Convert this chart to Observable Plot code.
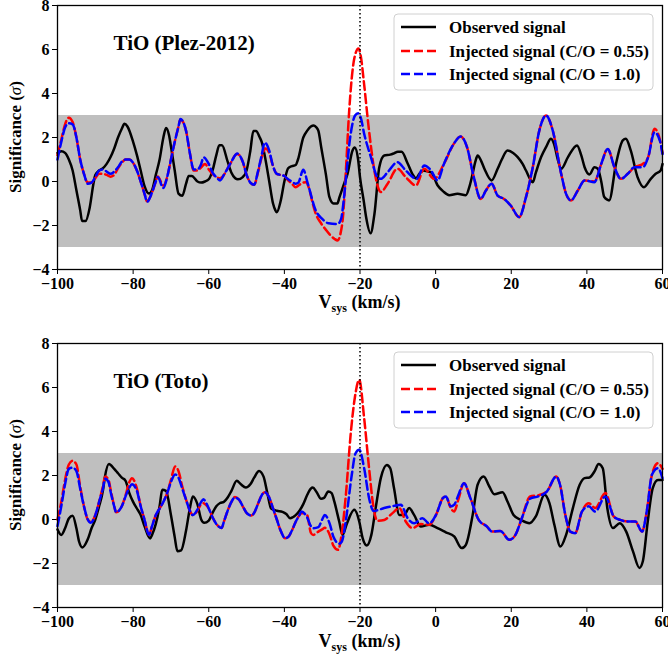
<!DOCTYPE html>
<html><head><meta charset="utf-8">
<script src="https://cdn.jsdelivr.net/npm/d3@7"></script>
<script src="https://cdn.jsdelivr.net/npm/@observablehq/plot@0.6"></script>
<style>
html,body{margin:0;padding:0;background:#fff;}
#chart{width:668px;}
#chart svg{display:block;}
</style></head><body><div id="chart"></div>
<script>
const xTicks = [-100, -80, -60, -40, -20, 0, 20, 40, 60];
const yTicks = [-4, -2, 0, 2, 4, 6, 8];
const noiseBand = [-3, 3];
const injectedVsys = [-20];
const seriesNames = ["Observed signal", "Injected signal (C/O = 0.55)", "Injected signal (C/O = 1.0)"];
const seriesColors = ["black", "red", "blue"];
const panelTitles = ["TiO (Plez-2012)", "TiO (Toto)"];

// Panel 1: TiO (Plez-2012) — [Vsys, significance]
const plezObs = [[-100,1.3],[-99,1.38],[-98,1.3],[-97,1.0],[-96,0.5],[-95,-0.4],[-94,-1.3],[-93.5,-1.8],[-92.6,-1.8],[-91.5,-1.2],[-90.5,-0.1],[-90,0.3],[-89,0.5],[-88,0.6],[-87,0.8],[-86,1.1],[-85,1.5],[-84,2.0],[-83,2.4],[-82.3,2.62],[-81.5,2.5],[-80,1.8],[-79,1.2],[-78,0.5],[-77,-0.2],[-75.8,-0.55],[-75,-0.4],[-74,0.3],[-73,1.0],[-72,2.0],[-71.3,2.43],[-70.5,2.1],[-70,1.6],[-69,0.5],[-68,-0.55],[-67,-0.65],[-66,-0.1],[-65.3,0.25],[-64.5,0.25],[-63,0.0],[-62,-0.05],[-61,0.0],[-60,0.1],[-59,0.5],[-58,1.2],[-57.2,1.65],[-56.5,1.65],[-55,0.9],[-54,0.4],[-53,0.15],[-52.3,0.1],[-51,0.2],[-50,0.5],[-49,1.4],[-48.2,2.3],[-47.5,2.3],[-46.5,2.0],[-46,1.8],[-45,1.0],[-44,0.0],[-43,-1.0],[-42.4,-1.3],[-42,-1.4],[-41,-0.9],[-40,0.0],[-39,0.6],[-38,0.7],[-37,0.75],[-36.4,1.0],[-35,2.0],[-34,2.3],[-33,2.5],[-32.2,2.55],[-31.5,2.45],[-31,2.3],[-30.2,1.5],[-29,0.3],[-28.1,-0.7],[-27,-1.0],[-26,-1.0],[-25.4,-0.7],[-24,0.0],[-23.3,0.35],[-22,1.4],[-21.4,1.55],[-20.5,1.0],[-20,0.2],[-19,-0.9],[-18.4,-1.6],[-17.2,-2.35],[-16.2,-1.5],[-14.9,0.65],[-13.6,1.18],[-12,1.22],[-11,1.28],[-10,1.35],[-9,1.35],[-7.4,0.82],[-6,0.3],[-5.2,0.14],[-4.3,0.35],[-3.4,0.5],[-2,0.45],[-1.2,0.42],[0.5,-0.17],[2,-0.45],[3.6,-0.62],[5.8,-0.56],[8,-0.62],[9,-0.2],[9.8,0.36],[10.5,0.9],[11.1,1.18],[12,0.95],[12.9,0.58],[14.8,0.05],[16.4,0.58],[17.5,1.0],[19,1.41],[20.5,1.3],[21.7,1.11],[23,0.8],[23.9,0.5],[25.7,-0.03],[26.5,0.4],[27.9,1.11],[29.3,1.6],[30.5,1.94],[31.5,1.6],[32.3,1.0],[33.2,0.58],[35,1.11],[37.4,1.64],[38.5,1.2],[39.4,0.65],[40.7,0.32],[42,0.65],[42.9,0.58],[43.8,0.0],[44.6,-0.71],[45.9,-0.86],[47.7,0.8],[49.5,1.87],[50.3,1.94],[51.6,1.41],[53.4,0.2],[55.1,-0.26],[56.9,0.12],[58.2,0.35],[59.5,0.5],[60,0.8]];
const plezRed = [[-100,1.2],[-99,1.9],[-98,2.6],[-97,2.9],[-96,2.7],[-95,2.0],[-94,1.0],[-93,0.35],[-92,-0.05],[-91,-0.05],[-90,0.15],[-89,0.35],[-88,0.35],[-87,0.3],[-86,0.22],[-85,0.3],[-84,0.6],[-83,0.85],[-82,1.0],[-81,1.0],[-80,0.85],[-79,0.5],[-78,0.0],[-77,-0.55],[-76.3,-0.9],[-75,-0.5],[-74,0.0],[-73.5,0.23],[-72,-0.18],[-71,0.2],[-70,1.0],[-69,1.8],[-68,2.5],[-67.5,2.82],[-66,2.3],[-65,1.3],[-64,0.5],[-63,0.5],[-62,0.65],[-61,0.8],[-60,0.55],[-59,0.35],[-58,0.2],[-57,0.15],[-56,0.3],[-55,0.6],[-54,0.9],[-53,1.2],[-52.5,1.25],[-51,0.9],[-50,0.3],[-49,-0.05],[-48,-0.15],[-47,0.4],[-46,1.1],[-45,1.5],[-44,1.3],[-43,0.7],[-42,0.35],[-41,0.3],[-40,0.25],[-39,0.05],[-38,-0.1],[-37,-0.26],[-36,-0.15],[-35,-0.05],[-34.3,-0.03],[-33.5,-0.3],[-32.5,-1.0],[-31.7,-1.47],[-30.5,-1.85],[-29,-2.2],[-27.8,-2.45],[-26.8,-2.6],[-25.9,-2.68],[-25.2,-2.4],[-24.5,-1.6],[-23.7,0.6],[-22.9,3.1],[-21.5,5.6],[-20.4,6.05],[-19.8,5.7],[-18.9,4.4],[-17.8,2.6],[-16.2,0.5],[-15.1,-0.33],[-14.5,-0.48],[-12.7,-0.1],[-10.1,0.58],[-7.9,0.2],[-5.2,-0.18],[-3,0.58],[-0.4,0.12],[2.2,0.8],[4.8,1.71],[6.6,2.05],[8.3,1.56],[10.1,0.2],[11.9,-0.79],[13.3,-0.41],[14.8,-0.1],[16.4,-0.64],[18.1,-0.79],[19.9,-1.1],[22.1,-1.62],[23.9,-0.71],[25.7,0.65],[27.4,2.3],[29.2,3.0],[31,2.3],[33.2,0.35],[34.5,-0.56],[35.8,-0.86],[37.6,-0.41],[39.4,0.05],[42,0.0],[43.8,0.8],[45.5,1.48],[47.3,0.65],[49,0.12],[50.8,0.35],[52.6,0.65],[54.8,0.8],[56.2,1.1],[57.9,2.4],[59.3,1.9],[60,1.3]];
const plezBlue = [[-100,1.0],[-99,1.8],[-98,2.45],[-97,2.65],[-96,2.6],[-95,2.0],[-94,1.0],[-93,0.35],[-92,-0.1],[-91,-0.05],[-90,0.2],[-89,0.5],[-88,0.55],[-87,0.45],[-86,0.35],[-85,0.45],[-84,0.65],[-83,0.9],[-82,1.0],[-81,1.0],[-80,0.85],[-79,0.5],[-78,0.0],[-77,-0.55],[-76.3,-0.92],[-75,-0.5],[-74,0.0],[-73.5,0.2],[-72,-0.3],[-71,0.2],[-70,1.0],[-69,1.8],[-68,2.5],[-67.5,2.84],[-66,2.3],[-65,1.3],[-64,0.55],[-63,0.55],[-62,0.8],[-61.4,1.1],[-60,0.8],[-59,0.4],[-58,0.2],[-57,0.05],[-56,0.3],[-55,0.6],[-54,0.9],[-53,1.2],[-52.5,1.27],[-51,0.9],[-50,0.3],[-49,-0.05],[-48,-0.15],[-47,0.45],[-46,1.2],[-45.2,1.77],[-44,1.4],[-43,0.7],[-42,0.35],[-41,0.3],[-40,0.25],[-39,0.1],[-38,0.0],[-37,-0.1],[-36.3,-0.05],[-35,0.53],[-33.8,-0.1],[-31.7,-1.32],[-30,-1.7],[-28.3,-1.9],[-25.9,-1.93],[-25,-1.7],[-24.4,-1.0],[-23.8,0.0],[-22.6,2.0],[-21.3,3.0],[-20.5,3.1],[-19.8,2.9],[-18.9,2.17],[-17.1,1.1],[-15.4,0.2],[-14.5,0.12],[-12.7,0.42],[-10.1,0.88],[-7.9,0.5],[-5,0.12],[-3,0.73],[-1.2,0.5],[0.5,0.05],[2.2,0.8],[4.8,1.71],[6.6,2.05],[8.3,1.56],[10.1,0.2],[11.9,-0.79],[13.3,-0.41],[14.8,-0.1],[16.4,-0.64],[18.1,-0.79],[19.9,-1.1],[22.1,-1.62],[23.9,-0.71],[25.7,0.65],[27.4,2.3],[29.2,3.0],[31,2.3],[33.2,0.35],[34.5,-0.56],[35.8,-0.86],[37.6,-0.41],[39.4,0.05],[42,-0.03],[43.8,0.8],[45.5,1.48],[47.3,0.65],[49,0.12],[50.8,0.35],[52.6,0.65],[54.8,0.65],[56.2,1.1],[57.9,2.24],[59.3,1.86],[60,1.25]];

// Panel 2: TiO (Toto) — [Vsys, significance]
const totoObs = [[-100,-0.45],[-99,-0.7],[-98,-0.4],[-97,0.05],[-96,0.17],[-95,-0.4],[-94.3,-1.0],[-93.4,-1.27],[-92,-0.9],[-91,-0.4],[-90,0.0],[-89,0.6],[-88,1.3],[-87.5,1.9],[-86.4,2.52],[-85,2.3],[-84,2.1],[-83,1.9],[-82,1.76],[-81,1.2],[-80,0.8],[-79,0.5],[-78,0.2],[-77,-0.3],[-75.5,-0.86],[-75,-0.7],[-74,-0.2],[-73,0.6],[-72.3,1.35],[-71.3,1.3],[-70,0.2],[-69,-0.8],[-68.3,-1.44],[-67.3,-1.4],[-66,-0.5],[-65,0.5],[-64.2,1.05],[-63,0.7],[-62,0.0],[-61.2,-0.15],[-60,-0.05],[-59,0.3],[-58,0.6],[-57,0.75],[-56,0.8],[-55,1.0],[-54,1.3],[-52.6,1.76],[-51.5,1.6],[-50.2,1.45],[-49,1.6],[-48,1.9],[-46.7,2.21],[-45.5,1.95],[-44.5,1.2],[-43.5,0.5],[-42,0.4],[-40.5,0.35],[-39.5,0.25],[-38.5,0.06],[-37,0.2],[-36,0.4],[-35,0.7],[-34,1.1],[-33,1.4],[-32.5,1.45],[-31.5,1.25],[-30.3,0.94],[-29.5,0.98],[-28.4,1.27],[-27.5,1.2],[-26.8,0.82],[-25.5,-0.09],[-24.6,-0.7],[-23.5,-0.2],[-21.5,0.44],[-20.2,-0.09],[-19.3,-0.85],[-18.2,-1.18],[-17,-0.7],[-15.8,0.59],[-14.5,1.88],[-12.9,2.48],[-12,2.33],[-11,1.42],[-9.6,0.21],[-8.3,0.21],[-7,0.52],[-5.7,0.21],[-3.9,-0.32],[-1.7,-0.24],[0.5,-0.39],[2.7,-0.58],[4.9,-0.77],[6.9,-1.3],[8,-1.15],[9.8,0.21],[11.1,1.58],[12.7,1.95],[14.2,1.5],[15.5,1.15],[17.7,1.24],[19,0.82],[20.6,0.21],[22.6,-0.02],[24.8,-0.17],[26.5,0.14],[28.8,1.12],[30.1,0.74],[31.4,-0.24],[33,-1.23],[34.5,-0.7],[36.3,0.52],[38.1,1.58],[39.4,1.88],[40.7,1.91],[42,2.18],[43.1,2.52],[44.2,2.33],[45.4,0.52],[46.9,-0.39],[48.7,-0.17],[50.4,-0.55],[52.2,-1.45],[53.9,-2.2],[54.8,-1.9],[56.1,-0.09],[57.4,1.42],[58.8,1.8],[60,1.8]];
const totoRed = [[-100,0.0],[-99,0.8],[-98,1.8],[-97,2.5],[-96,2.67],[-95,2.5],[-94,1.5],[-93,0.6],[-92,0.0],[-91.2,-0.1],[-90,0.2],[-89,0.8],[-88,1.5],[-87.4,1.95],[-86.5,1.8],[-86,1.4],[-85,0.6],[-84.5,0.33],[-83,0.6],[-82,1.1],[-81,1.7],[-80.3,1.88],[-79,1.4],[-78,0.6],[-77,0.0],[-75.8,-0.7],[-75,-0.3],[-74,0.2],[-73,0.5],[-72,0.8],[-71,1.2],[-70,1.8],[-68.9,2.41],[-68,2.2],[-67,1.5],[-66,0.9],[-65,0.4],[-64.2,0.2],[-63,0.4],[-62,0.7],[-61.4,0.74],[-61,0.7],[-60,0.5],[-59,0.1],[-58,-0.2],[-56.6,-0.39],[-56,-0.1],[-55,0.4],[-54,0.8],[-53.1,1.02],[-52,0.9],[-51,0.6],[-50,0.3],[-48.7,0.18],[-48,0.3],[-47,0.7],[-46,1.1],[-45.2,1.24],[-44,1.0],[-43,0.5],[-42,0.0],[-41,-0.5],[-39.8,-0.85],[-39,-0.8],[-38,-0.5],[-37,-0.1],[-36,0.2],[-35.5,0.3],[-34,0.2],[-33,-0.6],[-32.4,-0.7],[-31,-0.55],[-30,-0.45],[-29.3,-0.38],[-28,-0.7],[-27,-1.2],[-25.8,-1.38],[-24.8,-0.6],[-23.8,1.0],[-22.4,4.0],[-21.4,5.5],[-20.2,6.35],[-18.9,4.6],[-17.6,2.33],[-16.4,0.52],[-15.4,-0.06],[-13.6,-0.02],[-11.4,0.29],[-9.6,0.52],[-7.9,-0.09],[-6.1,-0.39],[-3.9,-0.21],[-1.7,-0.24],[0.1,0.21],[1.9,0.97],[2.7,1.05],[4,0.52],[4.9,0.36],[6,0.9],[7.5,1.65],[9.2,0.97],[11.4,-0.02],[13.6,-0.32],[14.9,-0.55],[17.1,-0.52],[19.5,-0.92],[21.1,-0.7],[22.8,0.06],[25,1.05],[27.2,1.1],[29.4,1.27],[31.9,1.95],[32.9,1.58],[34.3,0.21],[35.6,-0.55],[36.9,-0.62],[38.7,0.36],[40.5,0.74],[42.2,0.52],[44.9,1.2],[47.1,0.14],[48.8,-0.02],[51,-0.09],[52.8,-0.09],[54.6,-0.55],[55.9,0.44],[57.2,2.03],[58.8,2.56],[60,2.3]];
const totoBlue = [[-100,-0.3],[-99,0.6],[-98,1.6],[-97,2.3],[-96,2.36],[-95,2.2],[-94,1.4],[-93,0.6],[-92,0.0],[-91.2,-0.15],[-90,0.2],[-89,0.8],[-88,1.4],[-87.4,1.85],[-86.5,1.7],[-86,1.3],[-85,0.6],[-84.5,0.33],[-83,0.6],[-82,1.05],[-81,1.45],[-80.3,1.6],[-79,1.3],[-78,0.6],[-77,0.0],[-75.8,-0.7],[-75,-0.3],[-74,0.2],[-73,0.5],[-72,0.8],[-71,1.2],[-70,1.7],[-68.9,2.05],[-68,1.9],[-67,1.4],[-66,0.9],[-65,0.4],[-64.2,0.2],[-63,0.45],[-62,0.8],[-61.4,0.92],[-61,0.85],[-60,0.5],[-59,0.1],[-58,-0.2],[-56.6,-0.39],[-56,-0.1],[-55,0.4],[-54,0.8],[-53.1,1.0],[-52,0.9],[-51,0.6],[-50,0.3],[-48.7,0.18],[-48,0.3],[-47,0.7],[-46,1.1],[-45.2,1.24],[-44,1.0],[-43,0.5],[-42,0.0],[-41,-0.5],[-39.8,-0.85],[-39,-0.8],[-38,-0.5],[-37,-0.1],[-36,0.2],[-35.5,0.36],[-34,0.1],[-33,-0.3],[-32.4,-0.4],[-31,-0.35],[-30,0.0],[-29.3,0.2],[-28,-0.2],[-27,-0.8],[-25.5,-1.1],[-24.8,-1.0],[-23.7,0.0],[-22.2,2.0],[-21.2,3.0],[-20.2,3.17],[-18.9,2.33],[-17.6,0.97],[-16.4,0.39],[-13.6,0.52],[-11,0.62],[-9.2,0.67],[-7.4,0.06],[-5.7,-0.17],[-3.5,0.06],[-1.7,-0.17],[0.1,0.21],[1.9,0.97],[2.7,1.05],[4,0.6],[4.9,0.67],[6,1.1],[7.5,1.65],[9.2,0.97],[11.4,-0.02],[13.6,-0.32],[14.9,-0.55],[17.1,-0.52],[19.5,-0.92],[21.1,-0.7],[22.8,0.06],[25,0.95],[27.2,1.05],[29.4,1.27],[31.9,1.95],[32.9,1.58],[34.3,0.21],[35.6,-0.55],[36.9,-0.62],[38.7,0.36],[40.5,0.6],[42.2,0.36],[44.9,1.05],[47.1,0.14],[48.8,-0.02],[51,-0.09],[52.8,-0.09],[54.6,-0.55],[55.9,0.44],[57.2,2.03],[58.8,2.33],[60,1.88]];

const FONT = "'Liberation Serif', 'Times New Roman', serif";
const DASH = "9,4";
const LW = 2.5;
const fmt = d => d < 0 ? "\u2212" + (-d) : String(d);

function panel(title, obs, red, blue, height, marginTop, marginBottom, labelGap) {
  const rows = arr => arr.map(([v, sig]) => ({v, sig}));
  const plot = Plot.plot({
    width: 668, height, marginTop, marginBottom, marginLeft: 57, marginRight: 6,
    style: {fontFamily: FONT, fontSize: "16px", fontWeight: "bold", background: "white", color: "black"},
    x: {domain: [-100, 60], ticks: xTicks, tickFormat: fmt, tickSize: 5, tickPadding: 3, label: null},
    y: {domain: [-4, 8], ticks: yTicks, tickFormat: fmt, tickSize: 5, tickPadding: 3, label: null},
    marks: [
      Plot.rectY([noiseBand], {y1: d => d[0], y2: d => d[1], fill: "#bfbfbf"}),
      Plot.line(rows(obs), {x: "v", y: "sig", stroke: seriesColors[0], strokeWidth: LW, curve: "monotone-x"}),
      Plot.line(rows(red), {x: "v", y: "sig", stroke: seriesColors[1], strokeWidth: LW, strokeDasharray: DASH, curve: "monotone-x"}),
      Plot.line(rows(blue), {x: "v", y: "sig", stroke: seriesColors[2], strokeWidth: LW, strokeDasharray: DASH, curve: "monotone-x"}),
      Plot.ruleX(injectedVsys, {stroke: "black", strokeWidth: 1.5, strokeDasharray: "1.5,2.5"}),
      Plot.frame({stroke: "black", strokeWidth: 1.3}),
      Plot.text([title], {frameAnchor: "top-left", dx: 56, dy: 38, text: d => d, fontSize: 21, fontWeight: "bold", textAnchor: "start", lineAnchor: "middle", fill: "black"})
    ]
  });
  const svg = d3.select(plot);
  const [L, R] = plot.scale("x").range;
  const [B, T] = plot.scale("y").range;
  // legend
  const lg = svg.append("g").attr("font-family", FONT).attr("font-weight", "bold").attr("font-size", 17).attr("text-anchor", "start");
  lg.append("rect").attr("x", 394).attr("y", T + 9).attr("width", 259).attr("height", 76).attr("rx", 4)
    .attr("fill", "white").attr("fill-opacity", 0.85).attr("stroke", "#d0d0d0").attr("stroke-width", 1);
  const rowY = [22, 46, 69];
  seriesNames.forEach((name, i) => {
    lg.append("line").attr("x1", 401).attr("x2", 436).attr("y1", T + rowY[i]).attr("y2", T + rowY[i])
      .attr("stroke", seriesColors[i]).attr("stroke-width", LW).attr("stroke-dasharray", i === 0 ? null : DASH);
    lg.append("text").attr("x", 449).attr("y", T + rowY[i]).attr("dy", "0.35em").attr("text-anchor", "start").attr("fill", "black").text(name);
  });
  // x label with subscript
  const xl = svg.append("text").attr("x", (L + R) / 2).attr("y", B + labelGap).attr("text-anchor", "middle")
    .attr("font-family", FONT).attr("font-weight", "bold").attr("font-size", 18).attr("fill", "black");
  xl.append("tspan").text("V");
  xl.append("tspan").attr("font-size", 12).attr("dy", 4).text("sys");
  xl.append("tspan").attr("dy", -4).text(" (km/s)");
  // y label
  const yl = svg.append("text").attr("transform", `translate(15,${(T + B) / 2}) rotate(-90)`)
    .attr("text-anchor", "middle").attr("dy", "0.35em")
    .attr("font-family", FONT).attr("font-weight", "bold").attr("font-size", 17).attr("fill", "black");
  yl.append("tspan").text("Significance (");
  yl.append("tspan").attr("font-style", "italic").attr("font-weight", "normal").text("\u03C3");
  yl.append("tspan").text(")");
  return plot;
}

const chart = document.getElementById("chart");
chart.append(panel(panelTitles[0], plezObs, plezRed, plezBlue, 320, 5, 51, 39));
chart.append(panel(panelTitles[1], totoObs, totoRed, totoBlue, 337, 23, 50, 40));
</script>
</body></html>
